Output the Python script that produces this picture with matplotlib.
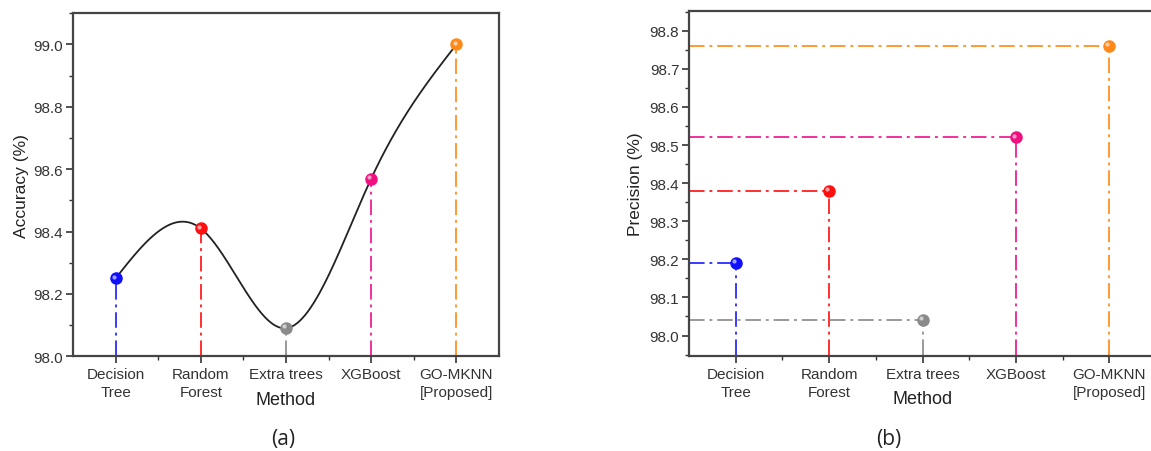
import numpy as np
import matplotlib
matplotlib.use("Agg")
import matplotlib.pyplot as plt
from matplotlib.ticker import MultipleLocator, FixedLocator
from matplotlib.transforms import ScaledTranslation

plt.rcParams['font.family'] = ['Liberation Sans', 'DejaVu Sans']

methods = ["Decision\nTree", "Random\nForest", "Extra trees", "XGBoost", "GO-MKNN\n[Proposed]"]
accuracy = [98.25, 98.41, 98.09, 98.57, 99.00]
precision = [98.19, 98.38, 98.04, 98.52, 98.76]
colors = ["#1010ff", "#ff1010", "#8a8a8a", "#f0107f", "#ff8a1a"]
line_colors = ["#3a3aff", "#ff3030", "#999999", "#f0309a", "#ff9a33"]
acc_ticks = [98.0, 98.2, 98.4, 98.6, 98.8, 99.0]
prec_ticks = [98.0, 98.1, 98.2, 98.3, 98.4, 98.5, 98.6, 98.7, 98.8]


def natural_spline(x, y, xs):
    x = np.asarray(x, float)
    y = np.asarray(y, float)
    n = len(x)
    h = np.diff(x)
    A = np.zeros((n, n))
    b = np.zeros(n)
    A[0, 0] = 1
    A[-1, -1] = 1
    for i in range(1, n - 1):
        A[i, i - 1] = h[i - 1]
        A[i, i] = 2 * (h[i - 1] + h[i])
        A[i, i + 1] = h[i]
        b[i] = 6 * ((y[i + 1] - y[i]) / h[i] - (y[i] - y[i - 1]) / h[i - 1])
    M = np.linalg.solve(A, b)
    out = np.empty_like(xs)
    for k, t in enumerate(xs):
        i = min(max(np.searchsorted(x, t) - 1, 0), n - 2)
        a = x[i + 1] - t
        c = t - x[i]
        out[k] = (M[i] * a ** 3 / (6 * h[i]) + M[i + 1] * c ** 3 / (6 * h[i])
                  + (y[i] / h[i] - M[i] * h[i] / 6) * a
                  + (y[i + 1] / h[i] - M[i + 1] * h[i] / 6) * c)
    return out


DASH = (0, (8, 2.5, 1.5, 2.5))
W, H = 1151, 452
fig = plt.figure(figsize=(W / 100, H / 100), dpi=100)

ax1 = fig.add_axes([73 / W, 1 - 357.3 / H, (499 - 73) / W, (357.3 - 14.3) / H])
ax2 = fig.add_axes([689 / W, 1 - 356.7 / H, (1156 - 689) / W, (356.7 - 12) / H])

xpos = np.arange(len(methods))


def draw_marker(ax, x, y, c):
    ax.plot(x, y, 'o', ms=8, mfc=c, mec=c, zorder=5)
    ax.plot(x, y, 'o', ms=3, mfc='white', mec='none', alpha=0.6, zorder=6,
            transform=ax.transData + ScaledTranslation(-1.3 / 72, 1.3 / 72, fig.dpi_scale_trans))


# Panel (a)
xs = np.linspace(0, 4, 400)
ax1.plot(xs, natural_spline(xpos, accuracy, xs), color='#222222', lw=1.3, zorder=3)
for i, (v, c, lc) in enumerate(zip(accuracy, colors, line_colors)):
    ax1.plot([i, i], [98.0, v], color=lc, lw=1.4, ls=DASH, zorder=2)
    draw_marker(ax1, i, v, c)
ax1.set_xlim(-0.5, 4.5)
ax1.set_ylim(98.0, 99.1)
ax1.yaxis.set_major_locator(FixedLocator(acc_ticks))
ax1.yaxis.set_minor_locator(MultipleLocator(0.1))
ax1.set_yticklabels([f"{t:.1f}" for t in acc_ticks])
ax1.set_ylabel("Accuracy (%)", fontsize=12.5, color='#222222', labelpad=3)

# Panel (b)
for i, (v, c, lc) in enumerate(zip(precision, colors, line_colors)):
    ax2.plot([-0.5, i], [v, v], color=lc, lw=1.4, ls=DASH, zorder=2)
    ax2.plot([i, i], [97.95, v], color=lc, lw=1.4, ls=DASH, zorder=2)
    draw_marker(ax2, i, v, c)
ax2.set_xlim(-0.5, 4.5)
ax2.set_ylim(97.947, 98.852)
ax2.yaxis.set_major_locator(FixedLocator(prec_ticks))
ax2.yaxis.set_minor_locator(MultipleLocator(0.05))
ax2.set_yticklabels([f"{t:.1f}" for t in prec_ticks])
ax2.set_ylabel("Precision (%)", fontsize=12.5, color='#222222', labelpad=5)

for ax in (ax1, ax2):
    ax.set_xticks(xpos)
    ax.set_xticklabels(methods, fontsize=11, color='#333333', linespacing=1.35)
    ax.xaxis.set_minor_locator(FixedLocator([0.5, 1.5, 2.5, 3.5]))
    ax.tick_params(axis='both', which='major', direction='out', length=5, width=1.2, color='#333333')
    ax.tick_params(axis='both', which='minor', direction='out', length=3, width=1.0, color='#333333')
    ax.tick_params(axis='y', labelsize=11, labelcolor='#333333', pad=2)
    ax.tick_params(axis='x', pad=3)
    for s in ax.spines.values():
        s.set_linewidth(1.6)
        s.set_color('#444444')
    ax.set_xlabel("Method", fontsize=13, color='#222222', labelpad=-6)

fig.text(283 / W, 1 - 440 / H, "(a)", ha='center', va='center', fontsize=15, family=['Open Sans', 'DejaVu Sans'], color='#222222')
fig.text(889 / W, 1 - 440 / H, "(b)", ha='center', va='center', fontsize=15, family=['Open Sans', 'DejaVu Sans'], color='#222222')

fig.savefig("out.png", dpi=100)
